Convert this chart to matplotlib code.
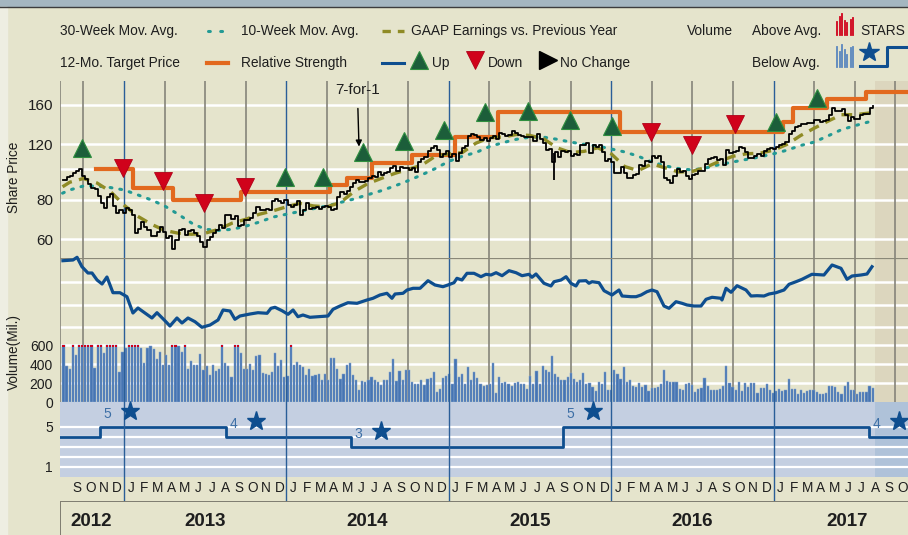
import numpy as np
import matplotlib
matplotlib.use("Agg")
import matplotlib.pyplot as plt
from matplotlib.lines import Line2D
from matplotlib.patches import Rectangle
from matplotlib.ticker import NullLocator

plt.rcParams['font.family'] = ['Liberation Sans', 'DejaVu Sans']

# ---------------------------------------------------------------- data
def dy(s):
    p = [int(v) for v in s.split('-')]
    d = p[2] if len(p) > 2 else 1
    return p[0] + (p[1] - 1) / 12 + (d - 1) / 365.25

week_start = 2012.627          # first weekly observation (mid Aug 2012)
week = 7 / 365.25

price = [92.6, 94.7, 95.0, 97.2, 98.7, 100.0, 95.3, 93.2, 89.9, 87.0, 86.3, 82.3, 78.2, 75.3, 81.6, 83.6, 76.2, 72.7, 74.1, 72.7,
         75.3, 74.3, 71.5, 62.8, 64.7, 67.9, 65.7, 64.3, 61.5, 61.6, 63.3, 65.8, 63.2, 60.4, 61.3, 55.8, 59.6, 64.2, 64.6, 61.9,
         63.6, 64.2, 63.0, 61.4, 59.0, 56.7, 59.6, 61.0, 62.6, 64.3, 66.7, 64.9, 71.8, 71.7, 69.6, 71.2, 66.3, 66.8, 69.0, 69.0,
         70.3, 72.7, 75.9, 74.3, 74.3, 74.9, 74.1, 79.6, 80.2, 79.2, 78.4, 80.0,
         77.1, 76.1, 77.2, 79.5, 71.5, 74.2, 78.4, 75.0, 75.2, 75.8, 74.9, 76.1, 76.7, 75.9, 74.2, 74.9, 81.7, 84.6, 83.6, 85.3,
         87.7, 90.4, 92.2, 91.3, 90.9, 92.0, 94.0, 95.2, 94.4, 97.7, 96.1, 97.5, 98.0, 101.3, 102.5, 99.0, 101.7, 101.0, 100.8, 99.6,
         100.7, 97.7, 105.2, 108.0, 109.0, 114.2, 116.5, 118.9, 115.0, 109.7, 111.8, 114.0,
         109.3, 112.0, 106.0, 113.0, 117.2, 118.9, 127.1, 129.5, 128.5, 126.6, 123.6, 125.9, 123.3, 125.3, 127.1, 124.8, 130.3, 129.0,
         127.6, 128.8, 132.5, 130.3, 128.7, 127.2, 126.6, 126.8, 126.4, 123.3, 129.6, 124.5, 121.3, 115.5, 116.0, 105.8, 113.3, 109.3,
         114.2, 113.5, 114.7, 110.4, 112.1, 111.0, 119.1, 119.5, 121.1, 112.3, 119.3, 117.8, 119.0, 113.2, 106.0, 108.0, 105.3,
         97.0, 97.1, 101.4, 97.3, 94.0, 94.0, 96.0, 96.9, 103.0, 102.3, 105.9, 105.7, 110.0, 108.7, 109.9, 105.7, 93.7, 92.7, 90.5,
         95.2, 100.4, 97.9, 98.8, 95.3, 93.4, 95.9, 96.7, 98.8, 98.7, 104.2, 107.5, 108.2, 109.4, 106.9, 107.7, 103.1, 114.9, 112.7,
         113.1, 114.1, 117.6, 116.6, 113.7, 108.8, 108.4, 110.1, 111.8, 109.9, 114.0, 116.0, 116.5, 115.8,
         117.9, 119.0, 120.0, 122.0, 129.1, 132.1, 135.7, 136.7, 139.1, 139.1, 140.0, 140.6, 143.7, 143.3, 141.1, 142.3, 143.7,
         149.0, 156.1, 153.1, 153.6, 155.5, 149.0, 142.3, 146.3, 144.0, 144.2, 149.0, 150.3, 149.5, 156.4, 159.0]

# intraweek flash dip (Aug 2015)
dip_date = ['2015-08-24']
dip_high = [113.0]
dip_low = [92.5]

volume = [600, 378, 353, 600, 494, 600, 600, 600, 600, 600, 360, 600, 600, 519, 600, 600, 600, 600, 318, 530,
          565, 600, 600, 600, 600, 565, 413, 565, 590, 554, 450, 530, 388, 494, 388, 600, 600, 590, 530, 600, 353,
          430, 388, 388, 505, 335, 378, 282, 388, 328, 353, 600, 406, 378, 265, 600, 600, 512, 353, 353, 400, 342,
          484, 494, 307, 300, 282, 318, 512, 378, 441, 265, 272, 600, 388, 424, 388,
          370, 282, 353, 272, 282, 293, 236, 300, 230, 466, 459, 353, 247, 293, 388, 406, 282, 230, 131, 220,
          212, 236, 265, 230, 212, 176, 236, 230, 318, 448, 222, 328, 236, 342, 342, 212, 194, 194, 230, 176,
          247, 258, 318, 106, 141, 250, 272, 300, 187, 448, 265, 293, 194, 364, 230, 318, 258, 194, 166, 176, 187,
          406, 95, 265, 201, 212, 187, 166, 200, 212, 194, 187, 141, 272, 187, 328, 194, 378, 335, 318, 484, 293,
          265, 230, 236, 265, 307, 247, 212, 230, 307, 187, 201, 159,
          112, 206, 188, 311, 129, 129, 339, 300, 241, 370, 213, 230, 168, 157, 199, 154, 178, 115, 150, 143,
          161, 185, 339, 223, 209, 209, 206, 140, 122, 192, 202, 181, 108, 140, 147, 248, 168, 122, 129, 122,
          133, 164, 380, 199, 154, 126, 206, 115, 202, 154, 202, 195, 94, 150, 150, 192, 122, 94, 112, 136,
          112, 126, 241, 136, 136, 87, 126, 94, 119, 126, 126, 108, 87, 87, 91, 171, 171, 154, 105, 87,
          164, 216, 129, 129, 80, 108, 105, 105, 168, 150]
volume_cap = 600

ma30_dates = ['2012-08-15', '2012-09', '2012-10', '2012-11', '2012-12', '2013-01', '2013-02', '2013-03', '2013-04',
              '2013-05', '2013-06', '2013-07', '2013-08', '2013-09', '2013-10', '2013-11', '2013-12', '2014-01',
              '2014-02', '2014-03', '2014-04', '2014-05', '2014-06', '2014-07', '2014-08', '2014-09', '2014-10',
              '2014-11', '2014-12', '2015-01', '2015-02', '2015-03', '2015-04', '2015-05', '2015-06', '2015-07',
              '2015-08', '2015-09', '2015-10', '2015-11', '2015-12', '2016-01', '2016-02', '2016-03', '2016-04',
              '2016-05', '2016-06', '2016-07', '2016-08', '2016-09', '2016-10', '2016-11', '2016-12', '2017-01',
              '2017-02', '2017-03', '2017-04', '2017-05', '2017-06', '2017-07', '2017-08-15']
ma30 = [84, 86, 88.5, 88.5, 87.5, 86, 83, 80, 76.5, 72, 67.5, 64.5, 64, 64.5, 66, 68, 70.5, 72, 73.5, 75, 76.5,
        78.5, 80.5, 83, 85.5, 88.5, 92, 96, 100.5, 106, 110, 113, 118, 121.5, 124.5, 126.5, 126.5, 124.5, 122,
        120, 118.5, 116, 113.5, 110, 105.5, 102.5, 100.5, 99.5, 101, 103.5, 105.5, 107.5, 109.5, 112, 115, 119,
        122, 127.5, 133.5, 137.5, 143]

ma10_dates = ma30_dates
ma10 = [88, 91, 93.5, 90.5, 85, 77, 71, 67, 64, 62.7, 62.2, 62.7, 64.5, 67.5, 69.4, 72, 73.8, 76, 78, 76.5, 76,
        78.5, 85, 90, 93.5, 97, 100, 103, 110, 112, 113, 121, 126, 126.5, 129, 128, 125, 117, 113, 114, 117,
        112, 102, 99, 104, 101, 98, 98.5, 101.5, 106, 110, 112, 112.5, 115, 120, 128, 135, 142, 149, 149, 151.5]

target_t = [2012.828, 2013.055, 2013.300, 2013.720, 2014.270, 2014.376, 2014.530, 2014.776, 2015.040, 2015.300,
            2016.054, 2017.055, 2017.117, 2017.330, 2017.570, 2017.830]
target = [100, 87.5, 80, 84.7, 89, 94, 104.6, 110.6, 127, 152, 131.6, 141, 156, 167, 176, 176]

up_t = [2012.741, 2013.991, 2014.225, 2014.472, 2014.724, 2014.970, 2015.223, 2015.488, 2015.746, 2016.005,
        2017.015, 2017.267]
up_y = [116.9, 94.6, 94.6, 113.5, 123, 133.3, 152, 153, 143.4, 137.3, 141.3, 168.4]
down_t = [2012.994, 2013.240, 2013.493, 2013.745, 2016.245, 2016.498, 2016.762]
down_y = [101, 91.9, 78.2, 87.9, 131.4, 119.4, 139.3]

split_t = 2014.447
split_label = '7-for-1'

rs_t = [2012.624, 2012.686, 2012.711, 2012.741, 2012.778, 2012.803, 2012.834, 2012.865, 2012.895, 2012.932,
        2012.975, 2013.018, 2013.055, 2013.086, 2013.129, 2013.172, 2013.203, 2013.252, 2013.283, 2013.326,
        2013.357, 2013.394, 2013.437, 2013.480, 2013.530, 2013.579, 2013.610, 2013.653, 2013.683, 2013.714,
        2013.776, 2013.825, 2013.881, 2013.905, 2013.930, 2013.973, 2014.010, 2014.041, 2014.071, 2014.102,
        2014.145, 2014.256, 2014.287, 2014.330, 2014.379, 2014.435, 2014.496, 2014.533, 2014.576, 2014.619,
        2014.650, 2014.669, 2014.718, 2014.743, 2014.780, 2014.823, 2014.872, 2014.915, 2014.964, 2014.995,
        2015.032, 2015.050, 2015.081, 2015.112, 2015.155, 2015.198, 2015.229, 2015.260, 2015.291, 2015.328,
        2015.371, 2015.414, 2015.451, 2015.494, 2015.512, 2015.537, 2015.586, 2015.629, 2015.648, 2015.691,
        2015.722, 2015.752, 2015.783, 2015.802, 2015.845, 2015.863, 2015.882, 2015.925, 2015.956, 2016.005,
        2016.048, 2016.067, 2016.122, 2016.153, 2016.184, 2016.220, 2016.251, 2016.282, 2016.325, 2016.356,
        2016.399, 2016.436, 2016.467, 2016.510, 2016.553, 2016.584, 2016.621, 2016.676, 2016.682, 2016.707,
        2016.738, 2016.775, 2016.830, 2016.861, 2016.898, 2016.941, 2016.972, 2017.015, 2017.064, 2017.095,
        2017.138, 2017.175, 2017.236, 2017.310, 2017.360, 2017.415, 2017.452, 2017.483, 2017.538, 2017.575,
        2017.606]
rs = [76.3, 77, 79.7, 70.3, 64, 64, 57, 53, 60, 44.3, 44.3, 40.3, 24, 29, 24, 19, 24.3, 16.3, 11, 19,
      14, 19, 15.3, 9.7, 12, 17, 27, 26, 17.7, 21, 23, 24.3, 23.7, 28.7, 29.7, 26.3, 22.7, 27, 20.3, 22,
      19.7, 21, 27.7, 31, 34.3, 33.7, 37, 38.7, 42, 43.7, 38.7, 43, 43.7, 47, 48.7, 48.7, 56.3, 52, 50.3, 52,
      54.3, 58.7, 57, 63.7, 63.7, 60.3, 62.7, 62, 64.3, 61.3, 66.3, 64.3, 61.3, 62.7, 59.7, 63, 53.7, 51, 55.3, 57,
      60.3, 53.7, 51, 56, 56.3, 53.7, 55.3, 54.3, 46.3, 42, 47, 41, 40.3, 40.3, 42, 45.3, 47, 45.3, 31,
      28.7, 35.3, 33.7, 32, 31, 31, 37.7, 39.7, 38.7, 37, 48.7, 44.7, 51.3, 47, 41, 41.3, 41, 43, 44.3, 47,
      52.7, 55.3, 57.7, 62.7, 62, 72, 68.7, 57.7, 61, 62, 63, 70.3]

stars_t = [2012.606, 2012.852, 2013.628, 2014.398, 2015.703, 2017.587, 2017.83]
stars = [4, 5, 4, 3, 5, 4, 4]

years = [2012, 2013, 2014, 2015, 2016, 2017]
year_label_t = [2012.80, 2013.5, 2014.5, 2015.5, 2016.5, 2017.45]
month_letters = 'JFMAMJJASOND'
first_month = '2012-09'

# ---------------------------------------------------------------- style
W, H = 908, 535
BG = '#E5E4CC'
SHADE = '#DCD6BE'
GRID = '#FFFFFF'
QLINE = '#86847A'
YLINE = '#2A5E98'
BLUE = '#0E4E8F'
ORANGE = '#E2691E'
TEAL = '#239A94'
OLIVE = '#8F8B25'
GREEN = '#1C5E3A'
RED = '#D0021B'
STARBG = '#C4CFE1'
STARSHADE = '#AFC2D9'
TXT = '#1E1E1E'
VOLC = '#4675B3'
VOLEDGE = '#86A4CC'

T_LEFT = 2013 + (60 - 124) / 162.4
T_RIGHT = 2013 + (908 - 124) / 162.4
T_FUT = 2013 + (875 - 124) / 162.4

fig = plt.figure(figsize=(W / 100, H / 100), dpi=100)
fig.patch.set_facecolor(BG)


def fx(x):
    return x / W


def fy(y):
    return 1 - y / H


def fax(x0, y0, x1, y1):
    a = fig.add_axes([x0 / W, 1 - y1 / H, (x1 - x0) / W, (y1 - y0) / H])
    a.set_facecolor('none')
    for s in a.spines.values():
        s.set_visible(False)
    a.set_xlim(T_LEFT, T_RIGHT)
    a.set_xticks([])
    a.tick_params(axis='y', length=0, labelsize=10, colors=TXT, pad=5)
    return a


# frame decorations
fig.add_artist(Rectangle((0, fy(6)), 1, 6 / H, transform=fig.transFigure, color='#A4B6C0', zorder=0))
fig.add_artist(Line2D([0, 1], [fy(6.5)] * 2, transform=fig.transFigure, color='#3C3C3C', lw=1.0))
fig.add_artist(Rectangle((0, 0), 7 / W, fy(7), transform=fig.transFigure, color='#EEEEE2', zorder=0))

quarters = [q for q in np.arange(2012.75, 2017.76, 0.25) if abs(q - round(q)) > 1e-6]


def vgrid(ax, grey=True, z_year=1.5):
    if grey:
        for q in quarters:
            ax.axvline(q, color=QLINE, lw=1.2, zorder=1.2)
        ax.axvline(T_LEFT + 0.002, color=QLINE, lw=1.2, zorder=1.2)
    for yr in years[1:]:
        ax.axvline(yr, color=YLINE, lw=1.0, zorder=z_year)


# ---------------------------------------------------------------- price panel
ax_p = fax(60, 81, 908, 258)
ax_p.set_yscale('log')
ax_p.set_ylim(52.3, 190.6)
ax_p.yaxis.set_minor_locator(NullLocator())
ax_p.set_yticks([60, 80, 100, 120, 160])
ax_p.set_yticklabels(['60', '80', '', '120', '160'])
ax_p.tick_params(axis='y', labelsize=11)
ax_p.axvspan(T_FUT, T_RIGHT, color=SHADE, lw=0, zorder=0.5)
for g in [60, 80, 100, 120, 160]:
    ax_p.axhline(g, color=GRID, lw=1.8, zorder=1)
vgrid(ax_p)

pt = week_start + np.arange(len(price)) * week
ax_p.plot(pt, price, color='black', lw=1.3, drawstyle='steps-post', zorder=5)
ax_p.vlines([dy(d) for d in dip_date], dip_low, dip_high, color='black', lw=1.3, zorder=5)
ax_p.plot([dy(d) for d in ma30_dates], ma30, color=TEAL, lw=2.2, ls=(0, (0.6, 2.6)),
          dash_capstyle='round', zorder=4)
ax_p.plot([dy(d) for d in ma10_dates], ma10, color=OLIVE, lw=2.4, ls=(0, (3.2, 2.2)), zorder=4)
ax_p.plot(target_t, target, color=ORANGE, lw=3.0, drawstyle='steps-post', zorder=3)
ax_p.plot(up_t, up_y, ls='none', marker='^', ms=13.5, mfc=GREEN, mec='#2F8F3F', mew=0.8, zorder=6)
ax_p.plot(down_t, down_y, ls='none', marker='v', ms=13.5, mfc=RED, mec='#B00018', mew=0.6, zorder=6)
ax_p.annotate(split_label, xy=(split_t, 118), xytext=(split_t - 0.01, 178), ha='center', va='center',
              fontsize=11, color=TXT, zorder=7,
              arrowprops=dict(arrowstyle='-|>', color='black', lw=1.0, mutation_scale=9, shrinkA=6, shrinkB=0))

# ---------------------------------------------------------------- relative strength panel
ax_r = fax(60, 258, 908, 337)
ax_r.set_ylim(0, 79)
ax_r.set_yticks([])
ax_r.axvspan(T_FUT, T_RIGHT, color=SHADE, lw=0, zorder=0.5)
for g in [10, 32.5, 55]:
    ax_r.axhline(g, color=GRID, lw=1.8, zorder=1)
ax_r.axhline(79, color='#8A8878', lw=1.6, zorder=2)
vgrid(ax_r)
ax_r.plot(rs_t, rs, color=BLUE, lw=2.3, zorder=5, solid_joinstyle='round', clip_on=False)

# ---------------------------------------------------------------- volume panel
ax_v = fax(60, 337, 908, 402)
ax_v.set_ylim(0, 685)
ax_v.set_yticks([0, 200, 400, 600])
ax_v.axvspan(T_FUT, T_RIGHT, color=SHADE, lw=0, zorder=0.5)
for g in [200, 400, 600]:
    ax_v.axhline(g, color=GRID, lw=1.8, zorder=1)
vgrid(ax_v, z_year=4)
vt = week_start + np.arange(len(volume)) * week
vv = np.minimum(np.array(volume, float), volume_cap)
ax_v.bar(vt, vv, width=week * 0.7, color=VOLC, edgecolor=VOLEDGE, lw=0.35, zorder=3)
over = np.array(volume) >= volume_cap
ax_v.bar(vt[over], [22] * int(over.sum()), bottom=volume_cap - 22, width=week * 0.7,
         color=RED, lw=0, zorder=3.5)

# ---------------------------------------------------------------- STARS panel
ax_s = fax(60, 402, 908, 477)
ax_s.set_ylim(0, 7.5)
ax_s.add_patch(Rectangle((T_LEFT, 0), T_RIGHT - T_LEFT, 7.5, color=STARBG, lw=0, zorder=0))
ax_s.axvspan(T_FUT, T_RIGHT, color=STARSHADE, lw=0, zorder=0.5)
for g in [1, 2, 3, 4, 5]:
    ax_s.axhline(g, color=GRID, lw=1.6, zorder=1)
ax_s.set_yticks([1, 5])
ax_s.set_yticklabels(['1', '5'])
vgrid(ax_s, grey=False, z_year=4)
ax_s.plot(stars_t, stars, color=BLUE, lw=2.0, drawstyle='steps-post', zorder=3)
for t, lv in zip(stars_t[1:-1], stars[1:-1]):
    ax_s.text(t + 0.045, lv + 1.33, str(lv), color='#3D6FA6', fontsize=10, ha='center', va='center', zorder=5)
    ax_s.plot([t + 0.183], [lv + 1.58], marker='*', ms=14, color=BLUE, ls='none', zorder=5, clip_on=False)

# ---------------------------------------------------------------- month row
ax_m = fax(60, 477, 908, 502)
ax_m.set_ylim(0, 1)
ax_m.set_yticks([])
vgrid(ax_m, grey=False)
ax_m.axhline(0.0, color='#7E7C70', lw=1.4)
m_start = dy(first_month)
for yr in years:
    for mi, letter in enumerate(month_letters):
        tc = yr + (mi + 0.5) / 12
        if m_start < tc < T_RIGHT:
            ax_m.text(tc, 0.55, letter, ha='center', va='center', fontsize=9.8, color=TXT, clip_on=True)

# ---------------------------------------------------------------- year row
ax_y = fax(60, 502, 908, 535)
ax_y.set_ylim(0, 1)
ax_y.set_yticks([])
ax_y.axvline(T_LEFT + 0.002, color='#7E7C70', lw=1.4)
for yr, tc in zip(years, year_label_t):
    ax_y.text(tc, 0.42, str(yr), ha='center', va='center', fontsize=13.5, fontweight='bold', color=TXT)

# ---------------------------------------------------------------- axis titles
fig.text(fx(14), fy(177), 'Share Price', rotation=90, ha='center', va='center', fontsize=9.8, color=TXT)
fig.text(fx(14), fy(352), 'Volume(Mil.)', rotation=90, ha='center', va='center', fontsize=9.8, color=TXT)

# ---------------------------------------------------------------- legend
def ftxt(x, y, s):
    fig.text(fx(x), fy(y), s, ha='left', va='center', fontsize=9.9, color=TXT)


def fline(xs, ys, **kw):
    fig.add_artist(Line2D([fx(v) for v in xs], [fy(v) for v in ys], transform=fig.transFigure, **kw))


r1, r2 = 31, 63
ftxt(60, r1, '30-Week Mov. Avg.')
fline([208, 226], [r1, r1], color=TEAL, lw=2.2, ls=(0, (0.6, 3.4)), dash_capstyle='round')
ftxt(241, r1, '10-Week Mov. Avg.')
fline([382, 404], [r1, r1], color=OLIVE, lw=2.4, ls=(0, (2.5, 2.1)))
ftxt(411, r1, 'GAAP Earnings vs. Previous Year')
ftxt(687, r1, 'Volume')
ftxt(752, r1, 'Above Avg.')
for bx, top in zip([836.5, 839.5, 842.3, 844.8, 847.4, 850.6, 853.0], [21.7, 16.7, 14, 20.7, 23.3, 20, 18.3]):
    fline([bx, bx], [34.5, top], color=RED, lw=1.3)
ftxt(860, r1, 'STARS')

ftxt(60, r2, '12-Mo. Target Price')
fline([207, 228], [r2, r2], color=ORANGE, lw=3.0)
ftxt(241, r2, 'Relative Strength')
fline([382, 404], [r2, r2], color=BLUE, lw=2.2)
fline([419], [60], ls='none', marker='^', ms=13.5, mfc=GREEN, mec='#2F8F3F', mew=0.8)
ftxt(432, r2, 'Up')
fline([475], [60], ls='none', marker='v', ms=13.5, mfc=RED, mec='#B00018', mew=0.6)
ftxt(488, r2, 'Down')
fline([548], [59.5], ls='none', marker='>', ms=13, mfc='black', mec='black')
ftxt(560, r2, 'No Change')
ftxt(752, r2, 'Below Avg.')
for bx, top in zip([836.5, 839.5, 842.3, 844.8, 847.4, 850.6, 853.0], [46.7, 51.7, 45, 50, 55, 48.3, 46.7]):
    fline([bx, bx], [66.5, top], color='#5A86BE', lw=1.3)
fline([869], [51.5], ls='none', marker='*', ms=15, color=BLUE)
fline([860, 887, 887, 910], [66, 66, 47, 47], color=BLUE, lw=2.2)

fig.savefig('out.png', dpi=100, facecolor=fig.get_facecolor())
